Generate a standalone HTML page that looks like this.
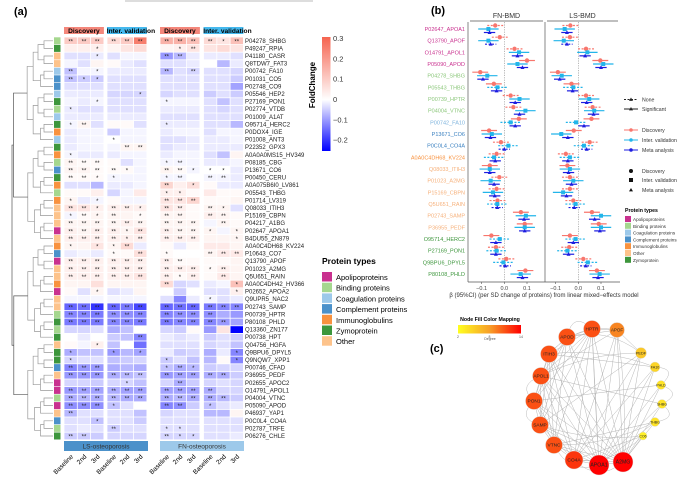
<!DOCTYPE html>
<html><head><meta charset="utf-8"><style>
html,body{margin:0;padding:0;background:#fff}
svg{display:block;font-family:"Liberation Sans",sans-serif}
</style></head><body>
<svg id="fig" width="693" height="477" viewBox="0 0 693 477" xmlns="http://www.w3.org/2000/svg">
<rect x="0" y="0" width="693" height="477" fill="#fff"/>
<rect x="125" y="0" width="188" height="2" fill="#ddd"/>
<g id="pa"></g>
<g id="pb"></g>
<g id="pc"></g>
</svg>
<script>
// ---------- Panel (a) data ----------
const hmRows = ["P04278_SHBG","P49247_RPIA","P41180_CASR","Q8TDW7_FAT3","P00742_FA10","P01031_CO5","P02748_CO9","P05546_HEP2","P27169_PON1","P02774_VTDB","P01009_A1AT","O95714_HERC2","P0DOX4_IGE","P01008_ANT3","P22352_GPX3","A0A0A0MS15_HV349","P08185_CBG","P13671_CO6","P00450_CERU","A0A075B6I0_LV861","P05543_THBG","P01714_LV319","Q08033_ITIH3","P15169_CBPN","P04217_A1BG","P02647_APOA1","B4DU55_ZN879","A0A0C4DH68_KV224","P10643_CO7","Q13790_APOF","P01023_A2MG","Q5U651_RAIN","A0A0C4DH42_HV366","P02652_APOA2","Q9UPR5_NAC2","P02743_SAMP","P00739_HPTR","P80108_PHLD","Q13360_ZN177","P00738_HPT","Q04756_HGFA","Q9BPU6_DPYL5","Q9NQW7_XPP1","P00746_CFAD","P36955_PEDF","P02655_APOC2","O14791_APOL1","P04004_VTNC","P05090_APOD","P46937_YAP1","P0C0L4_CO4A","P02787_TRFE","P06276_CHLE"];
const hmTypes = ["bind","zym","other","other","coag","compl","compl","coag","zym","bind","coag","zym","imm","coag","zym","imm","bind","compl","zym","imm","bind","imm","other","other","other","apo","other","imm","compl","apo","other","other","imm","apo","other","other","bind","zym","bind","zym","other","zym","zym","compl","other","apo","apo","bind","apo","other","compl","bind","zym"];
const hmCols = ["Baseline","2nd","3rd","Baseline","2nd","3rd","Baseline","2nd","3rd","Baseline","2nd","3rd"];
const hmFC = [
[10,10,10,7,10,25,15,15,12,7,5,12],[3,3,3,2,5,7,2,3,5,5,7,5],[-3,-3,-2,-3,-1,-1,-10,-7,-2,-2,-2,-3],[-1,-3,2,1,-2,-3,-3,-3,-2,0,-7,-2],
[-6,-1,-1,-2,-2,-2,-7,-3,-4,-3,-3,-4],[-6,-5,-5,-3,-3,-3,-3,-3,-3,-3,-3,-5],[-3,-3,-3,-3,-3,-3,-3,-3,-3,-3,-3,-9],[-2,-2,-2,-4,-4,-4,-4,-3,-3,-5,-3,-5],
[-1,-2,-1,-3,-3,-3,-1,-1,-1,-3,-6,-3],[-2,-3,-3,-3,-3,-3,-2,-2,-2,-3,-4,-3],[-2,-2,-2,-2,-2,-2,-3,-3,-3,-3,-3,-3],[-1,2,-3,1,1,-3,-2,-2,-2,-3,-3,-7],
[-2,-1,-1,-5,-1,-1,-2,-1,-1,-3,-1,-1],[-2,-1,-1,0,-1,-1,-3,-3,-2,-2,-2,-1],[-2,-1,-1,-1,2,2,-3,-2,-2,-2,-2,-2],[-1,-2,-2,-2,-1,-1,-2,-1,-1,-3,-6,2],
[2,1,1,1,-3,-1,-1,-1,-1,-2,-2,-1],[2,2,1,1,1,-1,2,1,-1,0,0,-2],[1,1,1,-1,-1,-1,-1,-1,0,-1,-1,-2],[-3,-3,-7,-2,-2,-1,8,3,6,1,-2,-2],
[1,1,3,-4,-1,4,3,3,1,4,1,1],[2,-2,-1,1,-1,-1,5,5,8,1,1,2],[5,5,3,3,3,3,5,3,1,2,2,-3],[-1,1,2,2,2,1,2,2,1,3,2,1],
[2,2,2,2,3,2,2,2,2,-1,2,1],[3,2,3,3,2,5,3,2,2,2,-1,2],[3,3,3,3,3,3,3,3,3,2,2,2],[2,2,5,2,7,-2,1,-2,1,4,4,2],
[-2,-1,-2,1,1,6,1,0,0,2,4,4],[3,3,3,3,3,3,3,1,1,1,1,2],[3,3,3,3,3,3,3,3,3,1,3,2],[3,3,3,3,3,5,3,1,3,1,4,2],
[2,2,6,2,2,2,7,-4,-3,-2,-1,12],[1,-3,2,-3,-2,2,0,-5,0,-3,-3,3],[-1,-1,-1,-1,-1,-1,-3,-12,-2,-1,-3,-2],[-15,-14,-20,-15,-13,-18,-15,-14,-15,-13,-12,-12],
[-12,-12,-13,-11,-11,-12,-12,-11,-11,-11,-8,-10],[-13,-13,-13,-12,-12,-13,-13,-12,-12,-12,-10,-9],[-4,-4,-3,-8,-6,0,-4,-5,1,-10,5,-25],[0,-2,0,-5,-6,-12,-2,-3,-2,-5,-3,-5],
[1,-1,3,-6,0,-14,-3,-3,-3,-4,-3,-6],[-8,-6,-6,-10,-7,-9,-2,-5,-4,-8,-2,-12],[-4,-3,-3,-6,-5,-4,-5,-3,-6,-7,1,-12],[-12,-10,-10,-8,-7,-8,-6,-8,-7,-5,-4,-4],
[-10,-10,-10,-8,-7,-6,-10,-9,-9,-8,-8,-5],[-4,-4,-5,-4,-4,-6,-4,-8,-5,-4,-3,-4],[-10,-9,-9,-8,-9,-9,-9,-9,-9,-8,-4,-4],[-8,-7,-8,-7,-8,-8,-8,-7,-8,-8,-7,-5],
[-11,-11,-11,-6,-3,0,-12,-11,-5,-6,-3,-2],[-7,-3,-3,-3,-3,-6,-4,-3,-3,-7,-7,2],[-3,-3,-6,-3,-3,-5,-3,-3,-3,-3,-3,-3],[-3,-2,-3,-5,-3,-3,-3,-3,-3,-3,-3,-3],
[-5,-5,-5,-4,-4,-4,-4,-4,-4,-3,-3,-2]];
const hmStars = ["222222222212","001000012000","001000220000","000000000000","201000202000","211000000000","000000000000","000001000000","001000100000","100000000000","000000000000","120000100000","000000000000","000100000000","000022000000","100000000000","222000120000","222210221110","221100120220","000000201000","000000110000","101000222000","221221220210","121201220220","222222222020","222212222101","222212222001","101120000000","000102100222","222222220000","222222222120","222222212020","000000200001","001000000001","000000000100","222222222222","222222222200","222222222220","000000000000","000002000000","001000000000","100101000001","100000100001","222000121000","222222222220","000010020000","222222222200","222222222220","222100220100","200000000000","001000000000","000200110000","220000211000"];
const cbTicks = [0.3,0.2,0.1,0,-0.1,-0.2];
const typeNames = ["Apolipoproteins","Binding proteins","Coagulation proteins","Complement proteins","Immunoglobulins","Zymoprotein","Other"];
const typeKeys = ["apo","bind","coag","compl","imm","zym","other"];
const typeFill = {apo:"#c9318f",bind:"#a5d78e",coag:"#9dc9ea",compl:"#4b91ca",imm:"#f8923f",zym:"#3d963c",other:"#fdc38b"};
const typeText = {apo:"#c9318f",bind:"#8cc77b",coag:"#7db3dd",compl:"#3a80c0",imm:"#f8923f",zym:"#3d963c",other:"#f6b07a"};

// ---------- Panel (b) data ----------
const fpRows = ["P02647_APOA1","Q13790_APOF","O14791_APOL1","P05090_APOD","P04278_SHBG","P05543_THBG","P00739_HPTR","P04004_VTNC","P00742_FA10","P13671_CO6","P0C0L4_CO4A","A0A0C4DH68_KV224","Q08033_ITIH3","P01023_A2MG","P15169_CBPN","Q5U651_RAIN","P02743_SAMP","P36955_PEDF","O95714_HERC2","P27169_PON1","Q9BPU6_DPYL5","P80108_PHLD"];
const fpTypes = ["apo","apo","apo","apo","bind","bind","bind","bind","coag","compl","compl","imm","other","other","other","other","other","other","zym","zym","zym","zym"];
const fnDisc = [-0.04,-0.02,0.045,0.1,-0.106,-0.046,0.028,0.04,0.064,-0.067,-0.015,-0.034,-0.064,-0.022,-0.034,-0.03,0.073,0.09,-0.057,-0.037,0.009,0.093];
const fnVal  = [-0.07,-0.07,0.065,0.058,-0.075,-0.03,0.067,0.093,0.028,-0.055,0.018,-0.045,-0.064,-0.06,-0.05,-0.031,0.095,0.09,-0.02,-0.034,-0.004,0.072];
const fnMeta = [-0.065,-0.06,0.058,0.08,-0.094,-0.034,0.048,0.067,0.048,-0.061,0.0,-0.04,-0.064,-0.045,-0.042,-0.031,0.087,0.09,-0.037,-0.037,0.004,0.08];
const lsDisc = [-0.035,-0.037,0.034,0.097,-0.09,-0.03,0.034,0.063,0.058,-0.02,0.05,-0.055,-0.048,-0.037,-0.037,-0.022,0.06,0.09,-0.037,-0.04,0.022,0.082];
const lsVal  = [-0.06,-0.064,0.04,0.11,-0.073,-0.022,0.048,0.07,-0.01,-0.075,0.025,-0.037,-0.037,-0.022,-0.067,-0.012,0.1,0.1,-0.012,-0.048,0.042,0.094];
const lsMeta = [-0.05,-0.05,0.03,0.1,-0.082,-0.025,0.037,0.067,0.025,-0.046,0.037,-0.046,-0.043,-0.03,-0.052,-0.018,0.072,0.095,-0.022,-0.043,0.033,0.087];
const sigDisc = [0,0,0,1,1,1,0,0,1,1,0,0,1,0,0,0,1,1,1,0,0,1];
const sigVal  = [1,1,1,1,1,0,1,1,0,1,0,0,1,1,1,0,1,1,0,0,0,1];
const sigMeta = [1,0,1,1,1,1,1,1,1,1,0,1,1,1,1,0,1,1,1,1,0,1];
const ciDisc = 0.035, ciVal = 0.045, ciMeta = 0.025;
const fpTicks = [-0.1,0.0,0.1];

// ---------- Panel (c) data ----------
const netNodes = ["HPTR","APOF","APOD","ITIH3","PEDF","FA10","APOL1","PHLD","PON1","SHBG","SAMP","THBG","CO6","VTNC","CO4A","APOA1","A2MG"];
const netDegree = [11,9,11,11,5,4,11,3,11,3,11,3,2,11,12,14,14];
const netEdges = [[0,2],[0,3],[0,6],[0,8],[0,10],[0,13],[0,14],[0,15],[0,16],[0,1],[1,2],[1,15],[1,16],[1,14],[1,6],[1,4],[2,3],[2,6],[2,8],[2,15],[2,16],[2,13],[2,10],[3,6],[3,8],[3,10],[3,14],[3,15],[3,16],[3,13],[4,15],[4,16],[4,14],[4,10],[5,15],[5,16],[5,14],[5,3],[6,8],[6,10],[6,13],[6,15],[6,16],[6,14],[7,15],[7,16],[7,8],[8,10],[8,13],[8,14],[8,15],[8,16],[9,16],[9,15],[9,6],[10,13],[10,14],[10,15],[10,16],[11,16],[11,15],[11,13],[12,16],[12,14],[13,14],[13,15],[13,16],[14,15],[14,16],[15,16]];
const degTicks = [2,8,14];

// ---------- helpers ----------
const NS = "http://www.w3.org/2000/svg";
function mk(parent, tag, attrs, text){
  const e = document.createElementNS(NS, tag);
  for (const k in attrs) e.setAttribute(k, attrs[k]);
  if (text !== undefined) e.textContent = text;
  parent.appendChild(e);
  return e;
}
function mix(a,b,t){return a.map((v,i)=>Math.round(v+(b[i]-v)*t));}
function rgb(c){return "rgb("+c.join(",")+")";}
function fcColor(v){
  if (v >= 0) return rgb(mix([255,255,255],[245,100,80],Math.min(1,v/0.3)));
  return rgb(mix([255,255,255],[0,0,255],Math.min(1,-v/0.25)));
}

// ---------- Panel (a) ----------
const pa = document.getElementById("pa");
mk(pa,"text",{x:14,y:15,"font-size":11,"font-weight":"bold"},"(a)");
const rowH = 7.6, top0 = 37, cellW = 13.3;
const groupX = [64,107,160,203.5];
const yRow = i => top0 + i*rowH;
const xCol = j => groupX[Math.floor(j/3)] + (j%3)*cellW;
const hdr = [["Discovery","#f4877b",64],["Inter. validation","#45b9ee",107],["Discovery","#f4877b",160],["Inter. validation","#45b9ee",203.5]];
hdr.forEach((h,k)=>{
  const r = mk(pa,"rect",{x:h[2],y:27,width:cellW*3,height:7,fill:h[1]});
  
  
  const t = mk(pa,"text",{x:h[2]+cellW*1.5+(k%2?4:0),y:33.2,"font-size":6.6,"font-weight":"bold","text-anchor":"middle"},h[0]);
  
  
});
hmFC.forEach((row,i)=>{
  row.forEach((v,j)=>{
    const c = mk(pa,"rect",{x:xCol(j)+0.4,y:yRow(i)+0.4,width:cellW-0.8,height:rowH-0.8,fill:fcColor(v/100)});
    
    
    const s = +hmStars[i][j];
    if (s>0){
      const st = mk(pa,"text",{x:xCol(j)+cellW/2,y:yRow(i)+6.3,"font-size":6,"text-anchor":"middle",fill:"#222"},s===2?"**":"*");
      
      
    }
  });
  const lb = mk(pa,"text",{x:245,y:yRow(i)+5.8,"font-size":6,fill:"#222"},hmRows[i]);
  
  
  const sw = mk(pa,"rect",{x:54,y:yRow(i)+0.3,width:6.5,height:rowH-0.6,fill:typeFill[hmTypes[i]]});
  
  
});
function dend(lo,hi,depth){
  if (lo===hi) return {y:yRow(lo)+rowH/2,x:53};
  const mid = Math.floor((lo+hi)/2);
  const a = dend(lo,mid,depth+1), b = dend(mid+1,hi,depth+1);
  const n = hi-lo+1;
  const x = 53 - Math.min(41, 3 + Math.log2(n)*6 + (n>20?8:0));
  const col = depth<2 ? "#555" : "#999";
  mk(pa,"path",{d:`M${a.x},${a.y}H${x}V${b.y}H${b.x}`,fill:"none",stroke:col,"stroke-width":0.7});
  return {y:(a.y+b.y)/2,x:x};
}
dend(0,hmRows.length-1,0);
const gradDef = mk(pa,"defs",{});
const lg = mk(gradDef,"linearGradient",{id:"fcg",x1:0,y1:0,x2:0,y2:1});
[[0,"rgb(245,100,80)"],[0.55,"#fff"],[1,"rgb(0,0,255)"]].forEach(s=>mk(lg,"stop",{offset:s[0],"stop-color":s[1]}));
const cb = mk(pa,"rect",{x:322,y:37,width:8.5,height:114,fill:"url(#fcg)"});


const cbY = v => 99 - v*203;
cbTicks.forEach(t=>{
  const tx = mk(pa,"text",{x:333,y:cbY(t)+3,"font-size":7.5,fill:"#333"},t===0?"0":(t<0?"\u22120.":"0.")+Math.abs(Math.round(t*10)));
  
  
});
const cbt = mk(pa,"text",{x:315,y:85,"font-size":8,"font-weight":"bold","text-anchor":"middle",transform:"rotate(-90 315 85)"},"FoldChange");


const lt = mk(pa,"text",{x:322,y:264,"font-size":8.5,"font-weight":"bold"},"Protein types");


typeKeys.forEach((k,i)=>{
  const r = mk(pa,"rect",{x:322,y:272+i*10.7,width:10,height:9.5,fill:typeFill[k]});
  
  
  const t = mk(pa,"text",{x:336,y:280+i*10.7,"font-size":7.5},typeNames[i]);
  
  
});
[["LS-osteoporosis","#4b91ca",64],["FN-osteoporosis","#9dc9ea",160]].forEach(s=>{
  const r = mk(pa,"rect",{x:s[2],y:441,width:84,height:10,fill:s[1]});
  
  
  const t = mk(pa,"text",{x:s[2]+42,y:448.5,"font-size":6.5,"text-anchor":"middle",fill:"#333"},s[0]);
  
  
});
hmCols.forEach((c,j)=>{
  const x = xCol(j)+cellW/2+3, y = 457;
  const t = mk(pa,"text",{x:x,y:y,"font-size":6.5,"text-anchor":"end",transform:`rotate(-45 ${x} ${y})`},c);
  
  
});

// ---------- Panel (b) ----------
const pb = document.getElementById("pb");
mk(pb,"text",{x:431,y:14,"font-size":11,"font-weight":"bold"},"(b)");
const fpTop = 29, fpStep = 11.67, fpBottom = 282;
const panels = [{name:"FN-BMD",x0:468,x1:545,zero:504.3,d:fnDisc,v:fnVal,m:fnMeta},{name:"LS-BMD",x0:545,x1:620,zero:578.3,d:lsDisc,v:lsVal,m:lsMeta}];
const fpY = i => fpTop + i*fpStep;
panels.forEach((p,pi)=>{
  const xs = b => p.zero + b*227;
  const sx = mk(pb,"text",{x:(p.x0+p.x1)/2,y:18,"font-size":7,"text-anchor":"middle",fill:"#333"},p.name);
  
  
  mk(pb,"line",{x1:p.x0+2,x2:p.x1-2,y1:21,y2:21,stroke:"#555","stroke-width":0.8});
  mk(pb,"line",{x1:p.x0,x2:p.x0,y1:22,y2:fpBottom,stroke:"#555","stroke-width":0.7});
  mk(pb,"line",{x1:p.x0,x2:p.x1,y1:fpBottom,y2:fpBottom,stroke:"#555","stroke-width":0.7});
  mk(pb,"line",{x1:xs(0),x2:xs(0),y1:22,y2:fpBottom,stroke:"#888","stroke-width":0.6,"stroke-dasharray":"1.2,1.2"});
  fpTicks.forEach(t=>{
    mk(pb,"line",{x1:xs(t),x2:xs(t),y1:fpBottom,y2:fpBottom+2,stroke:"#555","stroke-width":0.6});
    const tl = mk(pb,"text",{x:xs(t),y:fpBottom+8,"font-size":5.5,"text-anchor":"middle",fill:"#444"},t===0?"0.0":(t<0?"\u22120.1":"0.1"));
    
    
  });
  fpRows.forEach((r,i)=>{
    const y = fpY(i);
    const series = [[p.d[i],ciDisc,sigDisc[i],"#f8766d",-3.5,"c"],[p.v[i],ciVal,sigVal[i],"#22b5ea",0,"s"],[p.m[i],ciMeta,sigMeta[i],"#1c1ce0",3.5,"t"]];
    series.forEach(s=>{
      const yy = y+s[4];
      const ln = mk(pb,"line",{x1:xs(s[0]-s[1]),x2:xs(s[0]+s[1]),y1:yy,y2:yy,stroke:s[3],"stroke-width":1.2,"stroke-dasharray":s[2]?"none":"2,1.5"});
      
      
      let mark;
      if (s[5]==="c") mark = mk(pb,"circle",{cx:xs(s[0]),cy:yy,r:2.2,fill:s[3]});
      else if (s[5]==="s") mark = mk(pb,"rect",{x:xs(s[0])-2,y:yy-2,width:4,height:4,fill:s[3]});
      else mark = mk(pb,"path",{d:`M${xs(s[0])},${yy-2.2}L${xs(s[0])+2},${yy+1.5}L${xs(s[0])-2},${yy+1.5}Z`,fill:s[3]});
      
      
    });
    if (pi===0){
      const t = mk(pb,"text",{x:465,y:y+2,"font-size":5.5,"text-anchor":"end",fill:typeText[fpTypes[i]]},r);
      
      
    }
  });
});
const xcap = mk(pb,"text",{x:544,y:297,"font-size":6,"text-anchor":"middle",fill:"#333"},"\u03b2 (95%CI) (per SD change of proteins) from linear mixed\u2212effects model");


function legLine(y,dash,col,label,shape){
  mk(pb,"line",{x1:624,x2:638,y1:y,y2:y,stroke:col,"stroke-width":1,"stroke-dasharray":dash});
  if (shape==="c") mk(pb,"circle",{cx:631,cy:y,r:1.8,fill:col});
  else mk(pb,"path",{d:`M631,${y-2}L633,${y+1.4}L629,${y+1.4}Z`,fill:col});
  const t = mk(pb,"text",{x:642,y:y+2,"font-size":5.2,fill:"#333"},label);
  
  
}
legLine(99.5,"2,1.5","#222","None","t");
legLine(109,"none","#222","Significant","t");
legLine(130,"none","#f8766d","Discovery","c");
legLine(140,"none","#22b5ea","Inter. validation","c");
legLine(150,"none","#1c1ce0","Meta analysis","c");
[["Discovery","c",171],["Inter. validation","s",180],["Meta analysis","t",190]].forEach(e=>{
  if (e[1]==="c") mk(pb,"circle",{cx:631,cy:e[2],r:2,fill:"#111"});
  else if (e[1]==="s") mk(pb,"rect",{x:629,y:e[2]-2,width:4,height:4,fill:"#111"});
  else mk(pb,"path",{d:`M631,${e[2]-2}L633,${e[2]+1.4}L629,${e[2]+1.4}Z`,fill:"#111"});
  const t = mk(pb,"text",{x:642,y:e[2]+2,"font-size":5.2,fill:"#333"},e[0]);
  
  
});
mk(pb,"text",{x:625,y:212,"font-size":5.2,"font-weight":"bold"},"Protein types");
const fpLegOrder = ["apo","bind","coag","compl","imm","other","zym"];
const fpLegNames = ["Apolipoproteins","Binding proteins","Coagulation proteins","Complement proteins","Immunoglobulins","Other","Zymoprotein"];
fpLegOrder.forEach((k,i)=>{
  const y = 216+i*6.8;
  mk(pb,"rect",{x:625,y:y,width:6,height:6,fill:typeFill[k]});
  const t = mk(pb,"text",{x:633,y:y+5,"font-size":4.6,fill:"#333"},fpLegNames[i]);
  
  
});

// ---------- Panel (c) ----------
const pc = document.getElementById("pc");
mk(pc,"text",{x:430,y:352,"font-size":11,"font-weight":"bold"},"(c)");
const nodePos = [[592,329],[617,330],[567,337],[549,354],[641,353],[655,367],[541,376],[661,385],[534,401],[662,404],[540,425],[655,422],[643,436],[554,445],[574,460],[599,465],[623,462]];
const cx0 = 598, cy0 = 398;
for (let i=0;i<nodePos.length;i++){
  const a = nodePos[i], b = nodePos[(i+2)%nodePos.length];
  const mx=(a[0]+b[0])/2, my=(a[1]+b[1])/2;
  const qx = mx+(mx-cx0)*0.35, qy = my+(my-cy0)*0.35;
  mk(pc,"path",{d:`M${a[0]},${a[1]}Q${qx},${qy} ${b[0]},${b[1]}`,fill:"none",stroke:"#bbb","stroke-width":0.5});
}
netEdges.forEach(e=>{
  const a = nodePos[e[0]], b = nodePos[e[1]];
  const l = mk(pc,"line",{x1:a[0],y1:a[1],x2:b[0],y2:b[1],stroke:"#b5b5b5","stroke-width":0.5});
  
  
});
function degColor(d){
  const t = (d-2)/12;
  return t<0.5 ? rgb(mix([255,240,40],[247,160,40],t*2)) : rgb(mix([247,160,40],[255,0,0],(t-0.5)*2));
}
netNodes.forEach((n,i)=>{
  const d = netDegree[i];
  const r = 3 + d*0.5;
  const c = mk(pc,"circle",{cx:nodePos[i][0],cy:nodePos[i][1],r:r,fill:degColor(d),stroke:"#ddd","stroke-width":0.4});
  
  
  const t = mk(pc,"text",{x:nodePos[i][0],y:nodePos[i][1]+1.7,"font-size":Math.min(5.2,2.2+r*0.3),"text-anchor":"middle",fill:"#222"},n);
  
  
});
const dd = mk(pc,"defs",{});
const dgr = mk(dd,"linearGradient",{id:"degg",x1:0,y1:0,x2:1,y2:0});
[[0,"#ffff20"],[0.5,"#f7a028"],[1,"#ff0000"]].forEach(s=>mk(dgr,"stop",{offset:s[0],"stop-color":s[1]}));
mk(pc,"text",{x:490,y:321,"font-size":5.2,"font-weight":"bold","text-anchor":"middle"},"Node Fill Color Mapping");
const db = mk(pc,"rect",{x:458,y:325,width:63,height:8.5,fill:"url(#degg)"});


degTicks.forEach(t=>{
  const x = 458 + (t-2)/12*63;
  const tx = mk(pc,"text",{x:x,y:338,"font-size":3.5,"text-anchor":"middle",fill:"#555"},String(t));
  
  
});
mk(pc,"text",{x:490,y:340,"font-size":3.5,"text-anchor":"middle",fill:"#555"},"Degree");
</script>
</body></html>
